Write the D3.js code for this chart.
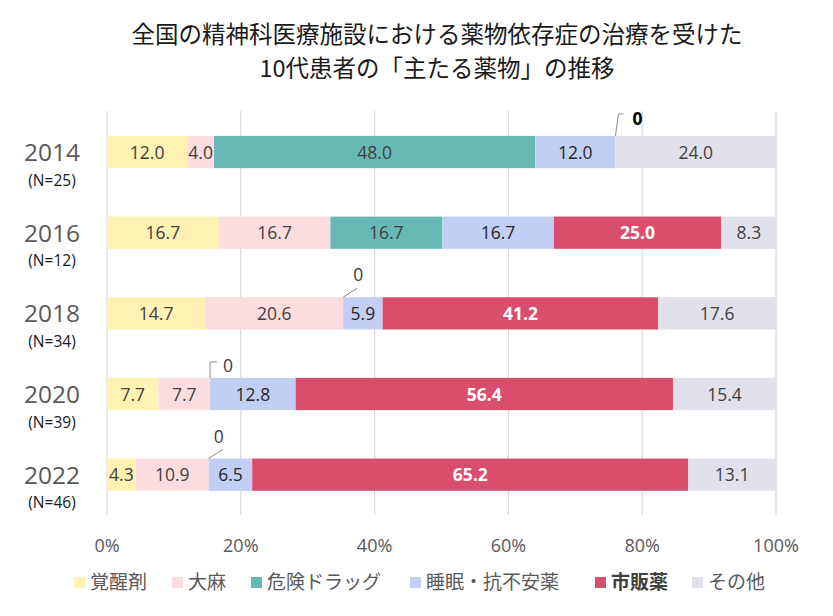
<!DOCTYPE html>
<html><head><meta charset="utf-8">
<script src="https://cdn.jsdelivr.net/npm/d3@7"></script>
<style>body{margin:0;background:#fff}svg{display:block}</style>
</head><body>
<script>
const years = ["2014","2016","2018","2020","2022"];
const nLabels = ["(N=25)","(N=12)","(N=34)","(N=39)","(N=46)"];
const seriesNames = ["覚醒剤","大麻","危険ドラッグ","睡眠・抗不安薬","市販薬","その他"];
const seriesColors = ["#FFF2B2","#FDDCE0","#66B9B4","#C3CEF5","#D94E6C","#E2E1EB"];
const s_kakuseizai = [12.0,16.7,14.7,7.7,4.3];
const s_taima      = [4.0,16.7,20.6,7.7,10.9];
const s_kiken      = [48.0,16.7,0,0,0];
const s_suimin     = [12.0,16.7,5.9,12.8,6.5];
const s_shihan     = [0,25.0,41.2,56.4,65.2];
const s_sonota     = [24.0,8.3,17.6,15.4,13.1];
const xTicks = [0,20,40,60,80,100];
const titleLines = ["全国の精神科医療施設における薬物依存症の治療を受けた","10代患者の「主たる薬物」の推移"];

const series = [s_kakuseizai,s_taima,s_kiken,s_suimin,s_shihan,s_sonota];
const W=833,H=616;
const JP = "'Noto Sans CJK JP','Noto Sans',sans-serif";
const NUM = "'Open Sans','Noto Sans CJK JP',sans-serif";
const svg = d3.select("body").append("svg").attr("width",W).attr("height",H)
  .style("font-family",NUM);

const x = d3.scaleLinear().domain([0,100]).range([107,776]);
const y = d3.scaleBand().domain(years).range([111.7,515]).paddingInner(0.6).paddingOuter(0.3);

// title
svg.append("g").selectAll("text").data(titleLines).join("text")
  .attr("x",437).attr("y",(d,i)=>43+i*34).attr("text-anchor","middle")
  .attr("font-family",JP)
  .attr("font-size",23.5).attr("fill","#1a1a1a").text(d=>d);

// gridlines
svg.append("g").selectAll("line").data(xTicks).join("line")
  .attr("x1",d=>x(d)).attr("x2",d=>x(d)).attr("y1",111).attr("y2",515)
  .attr("stroke","#D9D9D9").attr("stroke-width",1.2);

// axis labels
svg.append("g").selectAll("text").data(xTicks).join("text")
  .attr("x",d=>x(d)).attr("y",552).attr("text-anchor","middle")
  .attr("font-size",18).attr("fill","#595959").text(d=>d+"%");

// stacked data
const rows = years.map((yr,i)=>{
  let cum=0;
  return series.map((s,k)=>{const v=s[i]; const o={year:yr,k,v,x0:cum,x1:cum+v}; cum+=v; return o;});
});
const segs = rows.flat();

const bars = svg.append("g");
bars.selectAll("rect").data(segs.filter(d=>d.v>0)).join("rect")
  .attr("x",d=>x(d.x0)).attr("width",d=>x(d.x1)-x(d.x0))
  .attr("y",d=>y(d.year)).attr("height",y.bandwidth())
  .attr("fill",d=>seriesColors[d.k]);

bars.selectAll("text").data(segs.filter(d=>d.v>0)).join("text")
  .attr("x",d=>(x(d.x0)+x(d.x1))/2).attr("y",d=>y(d.year)+y.bandwidth()/2+6.5)
  .attr("text-anchor","middle").attr("font-size",17.5)
  .attr("font-weight",d=>d.k===4?700:400)
  .attr("fill",d=>d.k===4?"#fff":(d.k===3?"#262626":"#404040"))
  .text(d=>d.v.toFixed(1));

// zero labels with leader lines
const zeros = segs.filter(d=>d.v===0);
const zg = svg.append("g");
zeros.forEach(d=>{
  const ax = x(d.x0), ay = y(d.year);
  let pts, lx, ly, bold=false;
  if(d.year==="2014"){ pts=[[ax,ay],[ax+3,ay-22],[ax+8,ay-22]]; lx=ax+22; ly=ay-11; bold=true; }
  else if(d.year==="2020"){ pts=[[ax,ay],[ax,ay-16],[ax+7,ay-16]]; lx=ax+18; ly=ay-6; }
  else { pts=[[ax,ay],[ax+14,ay-9]]; lx=ax+(d.year==="2018"?15:10); ly=ay-16; }
  zg.append("path").attr("d",d3.line()(pts)).attr("fill","none")
    .attr("stroke","#8C8C8C").attr("stroke-width",1);
  zg.append("text").attr("x",lx).attr("y",ly).attr("text-anchor","middle")
    .attr("font-size",17.5).attr("font-weight",bold?700:400)
    .attr("fill",bold?"#000":"#404040").text("0");
});

// year labels
const yl = svg.append("g");
yl.selectAll("text.yr").data(years).join("text").attr("class","yr")
  .attr("x",52).attr("y",d=>y(d)+y.bandwidth()/2+9).attr("text-anchor","middle")
  .attr("font-size",24.5).attr("fill","#595959").text(d=>d);
yl.selectAll("text.n").data(years).join("text").attr("class","n")
  .attr("x",52).attr("y",d=>y(d)+y.bandwidth()/2+33.5).attr("text-anchor","middle")
  .attr("font-size",15.5).attr("fill","#1a1a1a").text((d,i)=>nLabels[i]);

// legend
const legX = [74,172,251,410,595,692];
const lg = svg.append("g");
seriesNames.forEach((n,i)=>{
  lg.append("rect").attr("x",legX[i]).attr("y",577).attr("width",11).attr("height",11)
    .attr("fill",seriesColors[i]);
  lg.append("text").attr("x",legX[i]+16).attr("y",589)
    .attr("font-family",JP)
    .attr("font-size",19).attr("font-weight",i===4?700:400)
    .attr("fill",i===4?"#404040":"#595959").text(n);
});
</script>
</body></html>
